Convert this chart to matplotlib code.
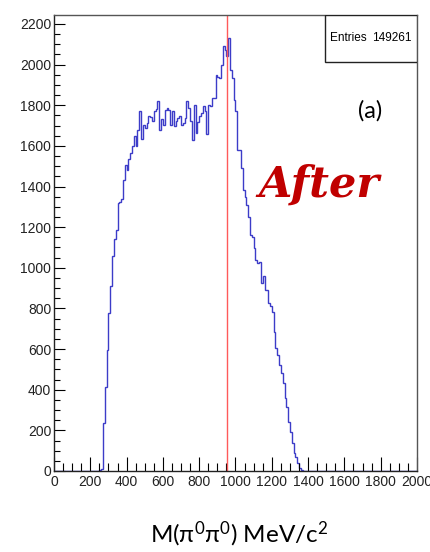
import numpy as np
import matplotlib
matplotlib.use("Agg")
import matplotlib.pyplot as plt
from matplotlib.patches import Rectangle
from matplotlib.ticker import MultipleLocator

# M(pi0 pi0) histogram, 10 MeV bins from 0 to 2000
mass_lo = 0
mass_hi = 2000
bin_width = 10
first_filled = 250   # left edge of first bin listed below

counts = [
    5, 12, 237, 414, 597, 777, 908, 1060, 1140, 1184,            # 250-340
    1320, 1325, 1340, 1430, 1504, 1480, 1535, 1565, 1598, 1647,  # 350-440
    1598, 1680, 1770, 1634, 1704, 1688, 1712, 1745, 1740, 1720,  # 450-540
    1770, 1780, 1821, 1680, 1730, 1704, 1778, 1786, 1778, 1704,  # 550-640
    1770, 1696, 1720, 1737, 1745, 1704, 1712, 1737, 1819, 1786,  # 650-740
    1720, 1630, 1802, 1663, 1716, 1745, 1761, 1794, 1770, 1660,  # 750-840
    1802, 1794, 1837, 1837, 1949, 1940, 1933, 1998, 2093, 2072,  # 850-940
    2040, 2132, 1973, 1933, 1825, 1770, 1580, 1580, 1491, 1383,  # 950-1040
    1350, 1309, 1251, 1160, 1153, 1097, 1038, 1022, 1030, 924,   # 1050-1140
    960, 891, 891, 825, 810, 784, 686, 604, 571, 522,            # 1150-1240
    480, 432, 359, 316, 243, 193, 136, 87, 71, 38,               # 1250-1340
    13, 5,                                                       # 1350-1360
]
entries = 149261
ref_mass = 955   # red marker line

edges = np.arange(mass_lo, mass_hi + bin_width, bin_width)
hist = np.zeros(len(edges) - 1)
i0 = (first_filled - mass_lo) // bin_width
hist[i0:i0 + len(counts)] = counts

tick_font = ['Liberation Sans', 'DejaVu Sans']

fig = plt.figure(figsize=(4.31, 5.52), dpi=100)
ax = fig.add_axes([54 / 431, 81 / 552, 363 / 431, 456 / 552])

ax.stairs(hist, edges, color='#3c3cc8', lw=1.0)
ax.axvline(ref_mass, color='#ff5a5a', lw=1.0)

ax.set_xlim(mass_lo, mass_hi)
ax.set_ylim(0, 2244)
ax.xaxis.set_major_locator(MultipleLocator(200))
ax.xaxis.set_minor_locator(MultipleLocator(50))
ax.yaxis.set_major_locator(MultipleLocator(200))
ax.yaxis.set_minor_locator(MultipleLocator(50))
ax.tick_params(axis='x', which='major', direction='in', length=10, width=0.8, pad=3)
ax.tick_params(axis='x', which='minor', direction='in', length=5.5, width=0.8)
ax.tick_params(axis='y', which='major', direction='in', length=8, width=0.8, pad=2)
ax.tick_params(axis='y', which='minor', direction='in', length=4.3, width=0.8)
for lab in ax.get_xticklabels() + ax.get_yticklabels():
    lab.set_family(tick_font)
    lab.set_fontsize(10)
    lab.set_color('#222222')
for side in ['top', 'right']:
    ax.spines[side].set_color('#555555')
for side in ['left', 'bottom']:
    ax.spines[side].set_color('#222222')
for s in ax.spines.values():
    s.set_linewidth(1.0)

# stats box
ax.add_patch(Rectangle((0.7466, 0.897), 0.2534, 0.103, transform=ax.transAxes,
                       facecolor='white', edgecolor='#222222', lw=1.0, zorder=5))
ax.text(0.760, 0.9496, 'Entries', transform=ax.transAxes, ha='left', va='center',
        fontsize=8.5, family=tick_font, zorder=6)
ax.text(0.986, 0.9496, str(entries), transform=ax.transAxes, ha='right', va='center',
        fontsize=8.5, family=tick_font, zorder=6)

fig.text(370 / 431, 1 - 111 / 552, '(a)', ha='center', va='center', fontsize=17,
         family=['Lato', 'DejaVu Sans'])
fig.text(319 / 431, 1 - 197 / 552, 'After', ha='center', va='baseline', fontsize=31,
         family='DejaVu Serif', weight='bold', style='italic', color='#c00000')
fig.text(239 / 431, 1 - 542 / 552,
         r'M($\mathregular{\pi^0\pi^0}$) MeV/c$\mathregular{^2}$',
         ha='center', va='baseline', fontsize=17.5,
         family=['Lato', 'Noto Sans', 'DejaVu Sans'])

fig.savefig('out.png', dpi=100)
